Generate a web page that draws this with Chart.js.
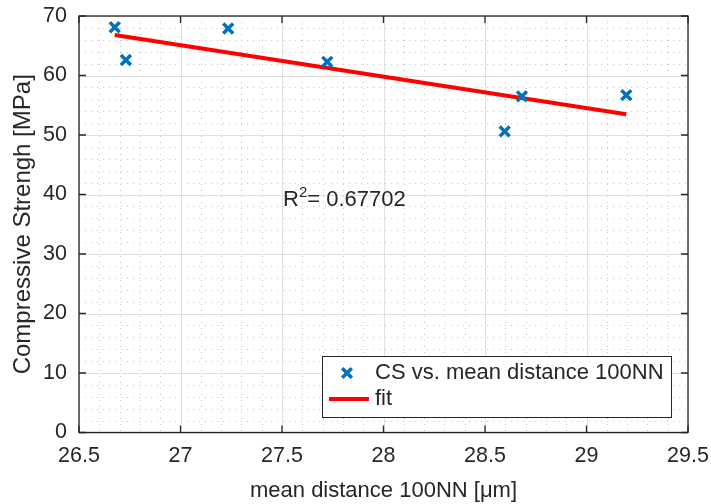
<!DOCTYPE html>
<html>
<head>
<meta charset="utf-8">
<script src="https://cdn.jsdelivr.net/npm/chart.js@4.4.0/dist/chart.umd.min.js"></script>
<style>
  html, body { margin: 0; padding: 0; background: #fff; }
  #wrap { width: 711px; height: 504px; }
</style>
</head>
<body>
<div id="wrap"><canvas id="chart" width="711" height="504"></canvas></div>
<script>
// measured values
const distX = [26.676, 26.731, 27.235, 27.723, 28.597, 28.682, 29.196];
const strengthY = [68.1, 62.6, 67.9, 62.3, 50.6, 56.5, 56.7];
const fitX = [26.676, 29.196];
const fitY = [66.8, 53.5];
const rSquared = "0.67702";
const xTicks = [26.5, 27, 27.5, 28, 28.5, 29, 29.5];
const yTicks = [0, 10, 20, 30, 40, 50, 60, 70];
const labelPos = { x: 27.505, y: 38 };

const FONT = "'Liberation Sans', Arial, Helvetica, sans-serif";
const TXT = "#262626";

const matlabAxes = {
    id: "matlabAxes",
    beforeDatasetsDraw(chart) {
        const { ctx, chartArea: a, scales: { x, y } } = chart;
        ctx.save();
        ctx.lineWidth = 1;
        // minor dotted grid
        ctx.strokeStyle = "#c4c4c4";
        ctx.setLineDash([1, 5]);
        for (let i = 0; i <= 30; i++) {
            if (i % 5 === 0) continue;
            const px = Math.round(x.getPixelForValue(26.5 + i * 0.1)) + 0.5;
            ctx.beginPath(); ctx.moveTo(px, a.top); ctx.lineTo(px, a.bottom); ctx.stroke();
        }
        for (let v = 0; v <= 70; v += 2) {
            if (v % 10 === 0) continue;
            const py = Math.round(y.getPixelForValue(v)) + 0.5;
            ctx.beginPath(); ctx.moveTo(a.left, py); ctx.lineTo(a.right, py); ctx.stroke();
        }
        // major grid
        ctx.setLineDash([]);
        ctx.strokeStyle = "#e0e0e0";
        xTicks.forEach(v => {
            const px = Math.round(x.getPixelForValue(v)) + 0.5;
            ctx.beginPath(); ctx.moveTo(px, a.top); ctx.lineTo(px, a.bottom); ctx.stroke();
        });
        yTicks.forEach(v => {
            const py = Math.round(y.getPixelForValue(v)) + 0.5;
            ctx.beginPath(); ctx.moveTo(a.left, py); ctx.lineTo(a.right, py); ctx.stroke();
        });
        ctx.restore();
    },
    afterDatasetsDraw(chart) {
        const { ctx, chartArea: a, scales: { x, y } } = chart;
        ctx.save();
        ctx.strokeStyle = TXT;
        ctx.lineWidth = 1.3;
        ctx.strokeRect(a.left, a.top, a.right - a.left, a.bottom - a.top);
        // inward ticks on all sides
        const tl = 7;
        xTicks.forEach(v => {
            const px = x.getPixelForValue(v);
            ctx.beginPath();
            ctx.moveTo(px, a.bottom); ctx.lineTo(px, a.bottom - tl);
            ctx.moveTo(px, a.top); ctx.lineTo(px, a.top + tl);
            ctx.stroke();
        });
        yTicks.forEach(v => {
            const py = y.getPixelForValue(v);
            ctx.beginPath();
            ctx.moveTo(a.left, py); ctx.lineTo(a.left + tl, py);
            ctx.moveTo(a.right, py); ctx.lineTo(a.right - tl, py);
            ctx.stroke();
        });

        // R^2 annotation
        const tx = x.getPixelForValue(labelPos.x);
        const ty = y.getPixelForValue(labelPos.y);
        ctx.fillStyle = TXT;
        ctx.textBaseline = "alphabetic";
        ctx.textAlign = "left";
        ctx.font = "22px " + FONT;
        ctx.fillText("R", tx, ty);
        let w = ctx.measureText("R").width;
        ctx.font = "15px " + FONT;
        ctx.fillText("2", tx + w, ty - 9);
        w += ctx.measureText("2").width;
        ctx.font = "22px " + FONT;
        ctx.fillText("= " + rSquared, tx + w, ty);

        // legend box
        const bw = 349, bh = 61;
        const bx = a.right - 17 - bw, by = a.bottom - 15.5 - bh;
        ctx.fillStyle = "#fff";
        ctx.fillRect(bx, by, bw, bh);
        ctx.lineWidth = 1;
        ctx.strokeStyle = TXT;
        ctx.strokeRect(Math.round(bx) + 0.5, Math.round(by) + 0.5, bw, bh);
        const ds = chart.data.datasets;
        const row1 = by + 17, row2 = by + 43;
        // marker
        ctx.strokeStyle = ds[0].borderColor;
        ctx.lineWidth = 3.5;
        const m = 4.8;
        ctx.beginPath();
        ctx.moveTo(bx + 25 - m, row1 - m); ctx.lineTo(bx + 25 + m, row1 + m);
        ctx.moveTo(bx + 25 + m, row1 - m); ctx.lineTo(bx + 25 - m, row1 + m);
        ctx.stroke();
        // line
        ctx.strokeStyle = ds[1].borderColor;
        ctx.lineWidth = 4;
        ctx.beginPath();
        ctx.moveTo(bx + 7, row2); ctx.lineTo(bx + 47, row2);
        ctx.stroke();
        ctx.fillStyle = TXT;
        ctx.font = "22px " + FONT;
        ctx.textBaseline = "middle";
        ctx.fillText(ds[0].label, bx + 53, row1);
        ctx.fillText(ds[1].label, bx + 53, row2);
        ctx.restore();
    }
};

const ctx = document.getElementById("chart").getContext("2d");
const chart = new Chart(ctx, {
    type: "scatter",
    data: {
        datasets: [
            {
                label: "CS vs. mean distance 100NN",
                data: distX.map((v, i) => ({ x: v, y: strengthY[i] })),
                pointStyle: "crossRot",
                pointRadius: 7,
                borderColor: "#0072BD",
                backgroundColor: "#0072BD",
                pointBorderWidth: 3.5,
                showLine: false,
                order: 1
            },
            {
                label: "fit",
                data: fitX.map((v, i) => ({ x: v, y: fitY[i] })),
                showLine: true,
                borderColor: "#ff0000",
                borderWidth: 4,
                pointRadius: 0,
                fill: false,
                order: 2
            }
        ]
    },
    options: {
        responsive: false,
        animation: false,
        devicePixelRatio: 1,
        layout: { padding: { left: 0, right: 23, top: 16, bottom: 0 } },
        plugins: { legend: { display: false }, tooltip: { enabled: false } },
        scales: {
            x: {
                type: "linear",
                min: 26.5,
                max: 29.5,
                afterBuildTicks: s => { s.ticks = xTicks.map(v => ({ value: v })); },
                afterFit: s => { s.height = 71.5; s.paddingLeft = 0; s.paddingRight = 0; },
                grid: { display: false, drawTicks: false },
                border: { display: false },
                ticks: {
                    color: TXT,
                    font: { family: FONT, size: 21.5 },
                    padding: 11,
                    maxRotation: 0,
                    callback: v => String(v)
                },
                title: {
                    display: true,
                    text: "mean distance 100NN [μm]",
                    color: TXT,
                    font: { family: FONT, size: 22 },
                    padding: { top: 0, bottom: 0 }
                }
            },
            y: {
                type: "linear",
                min: 0,
                max: 70,
                afterBuildTicks: s => { s.ticks = yTicks.map(v => ({ value: v })); },
                afterFit: s => { s.width = 79; s.paddingTop = 0; s.paddingBottom = 0; },
                grid: { display: false, drawTicks: false },
                border: { display: false },
                ticks: {
                    color: TXT,
                    font: { family: FONT, size: 21.5 },
                    padding: 12
                },
                title: {
                    display: true,
                    text: "Compressive Strengh [MPa]",
                    color: TXT,
                    font: { family: FONT, size: 24 },
                    padding: { top: 9, bottom: 0 }
                }
            }
        }
    },
    plugins: [matlabAxes]
});
</script>
</body>
</html>
